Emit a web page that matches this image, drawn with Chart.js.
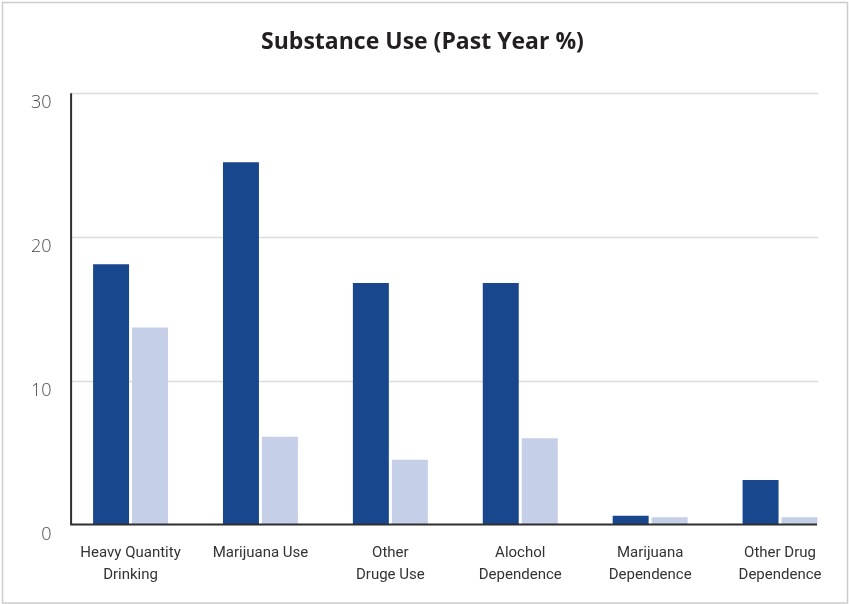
<!DOCTYPE html>
<html>
<head>
<meta charset="utf-8">
<title>Substance Use (Past Year %)</title>
<script src="https://cdn.jsdelivr.net/npm/chart.js@4"></script>
<style>
  body { margin: 0; background: #fff; }
  #wrap { width: 849px; height: 604px; position: relative; }
</style>
</head>
<body>
<div id="wrap"><canvas id="chart"></canvas></div>
<script>
const categories = [
  ["Heavy Quantity", "Drinking"],
  ["Marijuana Use"],
  ["Other", "Druge Use"],
  ["Alochol", "Dependence"],
  ["Marijuana", "Dependence"],
  ["Other Drug", "Dependence"],
];
const darkValues = [18.1, 25.2, 16.8, 16.8, 0.6, 3.1];
const lightValues = [13.7, 6.1, 4.5, 6.0, 0.5, 0.5];
const yTicks = [0, 10, 20, 30];

// frame, grid lines and axis lines (the axes stop short of the plot area on purpose)
const framePlugin = {
  id: "frame",
  beforeDraw(chart) {
    const ctx = chart.ctx;
    ctx.save();
    ctx.strokeStyle = "#cbcbcb";
    ctx.lineWidth = 1.5;
    ctx.strokeRect(2.5, 2.5, chart.width - 4, chart.height - 3.5);
    ctx.restore();
  },
  beforeDatasetsDraw(chart) {
    const { ctx, chartArea, scales } = chart;
    const left = chartArea.left + 5.5;
    const right = chartArea.right - 27;
    ctx.save();
    ctx.strokeStyle = "#dcdcdc";
    ctx.lineWidth = 1.5;
    yTicks.slice(1).forEach((t) => {
      const y = Math.round(scales.y.getPixelForValue(t)) + 0.5;
      ctx.beginPath();
      ctx.moveTo(left, y);
      ctx.lineTo(right, y);
      ctx.stroke();
    });
    ctx.restore();
  },
  afterDatasetsDraw(chart) {
    const { ctx, chartArea, scales } = chart;
    const left = chartArea.left + 5.5;
    const right = chartArea.right - 28;
    const y0 = scales.y.getPixelForValue(0);
    ctx.save();
    ctx.strokeStyle = "#2e2e2e";
    ctx.lineWidth = 2;
    ctx.beginPath();
    ctx.moveTo(left, chartArea.top);
    ctx.lineTo(left, y0);
    ctx.lineTo(right, y0);
    ctx.stroke();
    ctx.restore();
  },
};

const ctx = document.getElementById("chart").getContext("2d");
new Chart(ctx, {
  type: "bar",
  data: {
    labels: categories,
    datasets: [
      {
        data: darkValues,
        backgroundColor: "#18478d",
        categoryPercentage: 0.6,
        barPercentage: 0.923,
      },
      {
        data: lightValues,
        backgroundColor: "#c5cfe8",
        categoryPercentage: 0.6,
        barPercentage: 0.923,
      },
    ],
  },
  options: {
    responsive: true,
    maintainAspectRatio: false,
    animation: false,
    layout: { padding: { left: 0, right: 4, top: 0, bottom: 0 } },
    plugins: {
      legend: { display: false },
      tooltip: { enabled: false },
      title: {
        display: true,
        text: "Substance Use (Past Year %)",
        color: "#231f20",
        font: { family: "'Open Sans', sans-serif", size: 23, weight: "bold" },
        padding: { top: 29, bottom: 36.6 },
      },
    },
    scales: {
      x: {
        grid: { display: false, drawTicks: false },
        border: { display: false },
        ticks: {
          color: "#333",
          padding: 18,
          maxRotation: 0,
          autoSkip: false,
          font: { family: "'Roboto', sans-serif", size: 15, lineHeight: 1.45 },
        },
      },
      y: {
        min: 0,
        max: 30,
        grid: { display: false, drawTicks: false },
        border: { display: false },
        afterFit(scale) {
          scale.width = 65.6;
        },
        afterBuildTicks(scale) {
          scale.ticks = yTicks.map((v) => ({ value: v }));
        },
        ticks: {
          color: "#4a4a4a",
          padding: 14,
          labelOffset: 10,
          font: { family: "'Open Sans', sans-serif", size: 18, weight: "300" },
        },
      },
    },
  },
  plugins: [framePlugin],
});
</script>
</body>
</html>
